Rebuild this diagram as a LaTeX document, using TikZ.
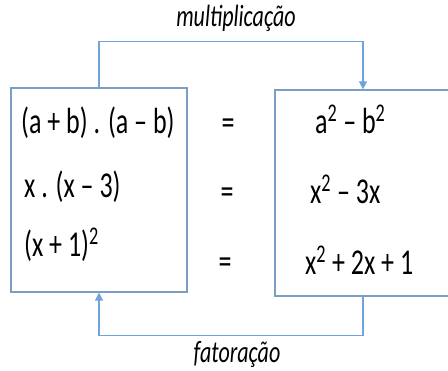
\documentclass[tikz,border=0pt]{standalone}
\usepackage{fontspec}
\setmainfont{Carlito}
\usetikzlibrary{arrows.meta}
\definecolor{boxblue}{RGB}{125,158,196}
\definecolor{lineblue}{RGB}{112,163,218}
\tikzset{box/.style={draw=boxblue,line width=1.2pt,minimum width=176pt,inner sep=0pt},
	conn/.style={draw=lineblue,line width=1.2pt,-{Triangle[length=8pt,width=8pt]}},
	eq/.style={font=\fontsize{26}{30}\selectfont,inner sep=0pt},
	lbl/.style={font=\fontsize{22}{26}\selectfont\itshape,inner sep=0pt}}
\newcommand{\tall}[1]{\scalebox{1}[1.4]{#1}}
\newcommand{\sq}{\textsuperscript{2}}
\begin{document}
\begin{tikzpicture}[x=1pt,y=-1pt]
	\useasboundingbox (0,0) rectangle (448,371);
	\node[box,minimum height=204pt] (lbox) at (99,190) {};
	\node[box,minimum height=206pt] (rbox) at (363,193) {};
	% left side
	\node[eq,anchor=base west] (l1) at (21,134) {\tall{(a + b) . (a -- b)}};
	\node[eq,anchor=base west] (l2) at (24,198) {\tall{x . (x -- 3)}};
	\node[eq,anchor=base west] (l3) at (24,257) {\tall{(x + 1)\sq}};
	% equals
	\node[eq,anchor=base] (e1) at (228,135) {\tall{=}};
	\node[eq,anchor=base] (e2) at (227,204) {\tall{=}};
	\node[eq,anchor=base] (e3) at (225,274) {\tall{=}};
	% right side
	\node[eq,anchor=base west] (r1) at (315,134) {\tall{a\sq{} -- b\sq}};
	\node[eq,anchor=base west] (r2) at (310,204) {\tall{x\sq{} -- 3x}};
	\node[eq,anchor=base west] (r3) at (305,275) {\tall{x\sq{} + 2x + 1}};
	% connectors
	\draw[conn] (lbox.north) -- ++(0,-46) -| (rbox.north);
	\draw[conn] (rbox.south) -- ++(0,39) -| (lbox.south);
	\node[lbl,anchor=base] (mult) at (236,27) {\tall{multiplicação}};
	\node[lbl,anchor=base] (fat) at (237,363) {\tall{fatoração}};
\end{tikzpicture}
\end{document}
